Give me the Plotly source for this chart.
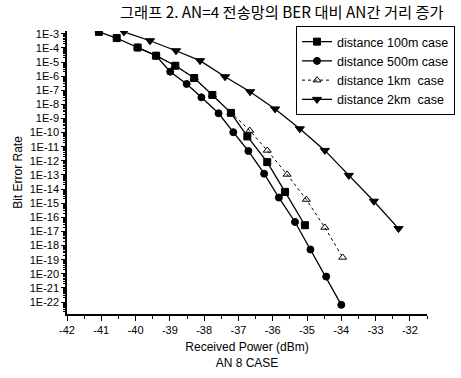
import plotly.graph_objects as go

# Received power (dBm) and log10(BER)
x_100m = [-41.07, -40.55, -39.94, -39.40, -38.84, -38.29, -37.76, -37.22, -36.74, -36.16, -35.64, -35.06]
e_100m = [-2.86, -3.30, -3.97, -4.55, -5.26, -6.13, -7.33, -8.60, -10.27, -12.09, -14.20, -16.56]

x_500m = [-39.94, -39.40, -38.99, -38.51, -38.08, -37.58, -37.15, -36.71, -36.25, -35.82, -35.35, -34.90, -34.44, -34.00]
e_500m = [-3.97, -4.55, -5.68, -6.55, -7.50, -8.63, -9.97, -11.30, -12.91, -14.60, -16.33, -18.28, -20.20, -22.20]

x_1km = [-39.94, -39.40, -38.84, -38.29, -37.76, -37.22, -36.67, -36.16, -35.58, -35.02, -34.48, -33.96]
e_1km = [-3.97, -4.55, -5.26, -6.13, -7.33, -8.60, -9.85, -11.26, -12.96, -14.74, -16.72, -18.84]

x_2km = [-40.34, -39.58, -38.82, -38.12, -37.39, -36.66, -35.93, -35.21, -34.48, -33.78, -33.05, -32.33]
e_2km = [-2.86, -3.49, -4.20, -4.90, -6.04, -7.10, -8.32, -9.73, -11.26, -13.03, -14.86, -16.80]

y_exponents = list(range(-3, -23, -1))
y_ticktext = [f"1E{k}" for k in y_exponents]
x_ticks = list(range(-42, -31))

series = [
    ("distance 100m case", x_100m, e_100m, "square", "solid", 1.3, 7),
    ("distance 500m case", x_500m, e_500m, "circle", "solid", 1.3, 7),
    ("distance 1km  case", x_1km, e_1km, "triangle-up-open", "dot", 1.0, 7),
    ("distance 2km  case", x_2km, e_2km, "triangle-down", "solid", 1.3, 8),
]

fig = go.Figure()
for name, xs, es, sym, dash, w, ms in series:
    fig.add_trace(go.Scatter(
        x=xs, y=[10 ** e for e in es], name=name, mode="lines+markers",
        line=dict(color="black", width=w, dash=dash),
        marker=dict(symbol=sym, size=ms, color="black", line=dict(color="black", width=1)),
    ))

font = "Liberation Sans, Arial, sans-serif"
fig.update_layout(
    width=461, height=378,
    margin=dict(l=67, r=34, t=31, b=64, autoexpand=False),
    paper_bgcolor="white", plot_bgcolor="white",
    font=dict(family=font, color="black", size=11),
    legend=dict(x=455 / 461, xanchor="right", xref="container",
                y=1 - 26 / 378, yanchor="top", yref="container",
                bgcolor="white", bordercolor="black", borderwidth=1,
                font=dict(family=font, size=12.5, color="black"),
                tracegroupgap=0, itemwidth=30),
    showlegend=True,
)
fig.add_annotation(
    text="그래프 2. AN=4 전송망의 BER 대비 AN간 거리 증가",
    font=dict(family="Noto Sans CJK KR", size=15.3, color="black"),
    xref="paper", yref="paper", x=(281.5 - 67) / 360, xanchor="center",
    y=(314 - 11) / 283, yanchor="middle", showarrow=False,
)
fig.update_xaxes(
    range=[-42, -31.5], tickmode="array", tickvals=x_ticks, ticktext=[str(v) for v in x_ticks],
    ticks="outside", ticklen=5, tickcolor="black", tickwidth=1,
    showline=True, linecolor="black", linewidth=1.5, showgrid=False, zeroline=False,
    minor=dict(dtick=0.5, ticks="outside", ticklen=3, tickcolor="black", showgrid=False),
    title=dict(text="Received Power (dBm)<br>AN 8 CASE", font=dict(size=12), standoff=8),
    tickfont=dict(size=11),
)
fig.update_yaxes(
    type="log", range=[-22.85, -2.8],
    tickmode="array", tickvals=[10 ** k for k in y_exponents], ticktext=y_ticktext,
    ticks="outside", ticklen=4, tickcolor="black", tickwidth=1,
    showline=True, linecolor="black", linewidth=1.5, showgrid=False, zeroline=False,
    minor=dict(dtick="D1", ticks="outside", ticklen=2, tickcolor="black", showgrid=False),
    title=dict(text="Bit Error Rate", font=dict(size=12), standoff=4),
    tickfont=dict(size=11),
)
fig.write_html("out.html")
